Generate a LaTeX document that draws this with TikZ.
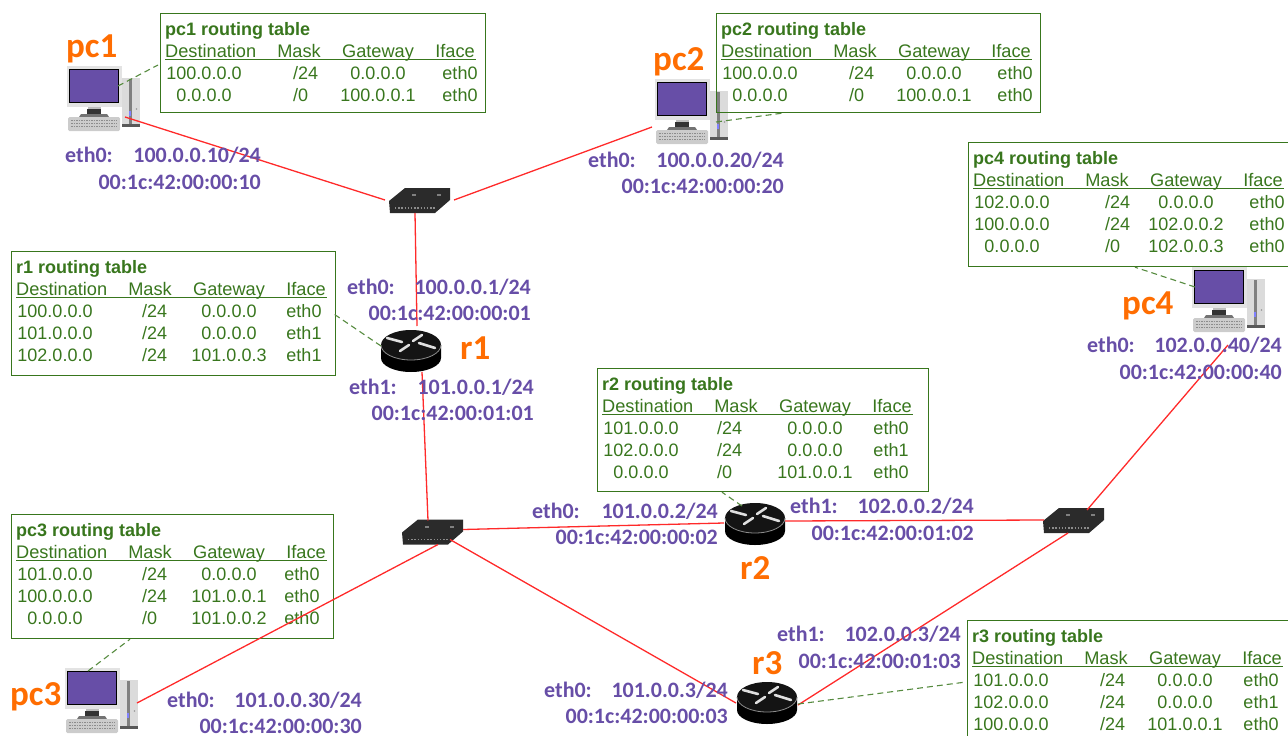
\documentclass[tikz,border=0pt]{standalone}
\usepackage{fontspec}
\setmainfont{Liberation Sans}
\newfontfamily\labfont{Carlito}
\usetikzlibrary{calc}
\definecolor{tgreen}{HTML}{38761D}
\definecolor{lpurple}{HTML}{674EA7}
\definecolor{lorange}{HTML}{FF6D01}
\definecolor{lred}{HTML}{FF2A2A}
\definecolor{swdark}{HTML}{2B2B2B}
\tikzset{
  tablebox/.style={draw=tgreen,line width=1.2pt,anchor=north west,inner sep=0pt},
  ttitle/.style={anchor=base west,inner sep=0pt,text=tgreen,font=\fontsize{18}{20}\selectfont\bfseries},
  thead/.style={inner sep=0pt,text=tgreen,font=\fontsize{18.2}{20}\selectfont},
  tcell/.style={inner sep=0pt,text=tgreen,font=\fontsize{18}{20}\selectfont},
  plab/.style={inner sep=0pt,text=lpurple,font=\labfont\fontsize{22}{24}\selectfont\bfseries},
  olab/.style={inner sep=0pt,text=lorange,font=\labfont\fontsize{35}{37}\selectfont\bfseries},
  devbox/.style={inner sep=0pt,minimum width=20pt,minimum height=20pt},
  netlink/.style={draw=lred,line width=1.3pt},
  tablelink/.style={draw=tgreen!85!white,line width=1.1pt,dash pattern=on 6pt off 4pt},
}
\newcommand\rtable[8]{% name x y w h title maskoff ifaceoff
  \def\curM{#7}\def\curE{#8}\def\curT{#1}
  \node[tablebox,minimum width=#4pt,minimum height=#5pt] (#1) at (#2,#3) {};
  \node[ttitle] (#1title) at ($(#1.north west)+(5,22)$) {#6};
  \node[thead,anchor=base west] (#1hd) at ($(#1.north west)+(5,44)$) {Destination};
  \node[thead,anchor=base] (#1hm) at ($(#1.north west)+(139,44)$) {Mask};
  \node[thead,anchor=base] (#1hg) at ($(#1.north west)+(218,44)$) {Gateway};
  \node[thead,anchor=base] (#1hi) at ($(#1.north west)+(295,44)$) {Iface};
  \draw[tgreen,line width=0.9pt] (#1hd.base west |- 0,{#3+46}) -- +(311,0);
}
\newcommand\trow[5]{% n dest mask gw iface
  \node[tcell,anchor=base] (\curT d#1) at ($(\curT.north west)+(44,{44+22*#1})$) {#2};
  \node[tcell,anchor=base west] (\curT m#1) at ($(\curT.north west)+(\curM,{44+22*#1})$) {#3};
  \node[tcell,anchor=base] (\curT g#1) at ($(\curT.north west)+(218,{44+22*#1})$) {#4};
  \node[tcell,anchor=base] (\curT i#1) at ($(\curT.north west)+(\curE,{44+22*#1})$) {#5};
}
\newcommand\pcicon[3]{%
  \node[devbox] (#1) at (#2,#3) {};
  \begin{scope}[shift={(#2,#3)}]
    \fill[black!11] (-36,-33) rectangle (19,8);
    \fill[black!25] (-15,8) rectangle (-2,14);
    \fill[black!80] (-16,10) rectangle (-2,15);
    \fill[black!55] (-22,15) -- (4,15) -- (6,18) -- (-24,18) -- cycle;
    \fill[black!20,rounded corners=1.5pt] (-35,18) rectangle (17,32);
    \foreach \ky in {21,24,27}{\draw[black!45,line width=0.8pt,dash pattern=on 1.5pt off 1pt] (-32,\ky) -- (14,\ky);}
    \fill[lpurple,draw=black,line width=1pt] (-34,-30) rectangle (15,3);
    \fill[black!14] (19,-21) rectangle (37,27);
    \fill[black!50] (26,-20) rectangle (29,25);
    \fill[black!65] (19,25) rectangle (37,28);
    \fill[blue!50!white] (26,12) rectangle (28,17);
    \fill[black!40] (33.5,10) circle (0.8);
  \end{scope}
}
\newcommand\roticon[3]{%
  \node[devbox] (#1) at (#2,#3) {};
  \begin{scope}[shift={(#2,#3)}]
    \fill[black] (-30,-6) -- (-30,7) arc[start angle=180,end angle=0,x radius=30,y radius=14] -- (30,-6) -- cycle;
    \fill[black!92] (0,-6) ellipse[x radius=30,y radius=15];
    \draw[black!45,line width=0.8pt] (-30,-6) arc[start angle=180,end angle=0,x radius=30,y radius=15];
    \draw[white!88!black,line width=2.6pt,line cap=round] (-24,-13) -- (-9,-9);
    \draw[white!88!black,line width=2.6pt,line cap=round] (2,-10) -- (11,-16);
    \draw[white!88!black,line width=2.6pt,line cap=round] (8,-8) -- (24,-3);
    \draw[white!88!black,line width=2.6pt,line cap=round] (-11,0) -- (-2,-6);
  \end{scope}
}
\newcommand\swicon[3]{%
  \node[devbox] (#1) at (#2,#3) {};
  \begin{scope}[shift={(#2,#3)}]
    \fill[swdark] (-31,1) -- (-15,-12) -- (30,-12) -- (30,0) -- (15,13) -- (-30,13) -- cycle;
    \draw[black!45,line width=1.1pt,dash pattern=on 1.4pt off 1.8pt] (-25,8) -- (16,8);
    \fill[black!50] (-8,-6) rectangle (-4,-4);
    \fill[black!50] (17,-6) rectangle (21,-4);
  \end{scope}
}
\newcommand\plabel[6]{% name xleft baseline eth xright ip
  \node[plab,anchor=base west] (#1e) at (#2,#3) {#4};
  \node[plab,anchor=base east] (#1i) at (#5,#3) {#6};
}
\begin{document}
\begin{tikzpicture}[x=1pt,y=-1pt]
\useasboundingbox (0,0) rectangle (1288,736);
\clip (0,0) rectangle (1288,736);
% devices
\pcicon{pc1}{103}{99}
\pcicon{pc2}{691}{112}
\pcicon{pc3}{101}{701}
\pcicon{pc4}{1228}{300}
\roticon{r1}{411}{351}
\roticon{r2}{755}{524}
\roticon{r3}{767}{703}
\swicon{sw1}{420}{200}
\swicon{sw2}{433}{531.5}
\swicon{sw3}{1074}{520}
% routing tables
\rtable{tpc1}{160}{13}{325}{99}{pc1 routing table}{133}{300}
\trow{1}{100.0.0.0}{/24}{0.0.0.0}{eth0}
\trow{2}{0.0.0.0}{/0}{100.0.0.1}{eth0}
\rtable{tpc2}{716}{13}{324}{99}{pc2 routing table}{133}{299}
\trow{1}{100.0.0.0}{/24}{0.0.0.0}{eth0}
\trow{2}{0.0.0.0}{/0}{100.0.0.1}{eth0}
\rtable{tr1}{11}{251}{324}{124}{r1 routing table}{131}{293}
\trow{1}{100.0.0.0}{/24}{0.0.0.0}{eth0}
\trow{2}{101.0.0.0}{/24}{0.0.0.0}{eth1}
\trow{3}{102.0.0.0}{/24}{101.0.0.3}{eth1}
\rtable{tpc4}{968}{142}{330}{124}{pc4 routing table}{137}{299}
\trow{1}{102.0.0.0}{/24}{0.0.0.0}{eth0}
\trow{2}{100.0.0.0}{/24}{102.0.0.2}{eth0}
\trow{3}{0.0.0.0}{/0}{102.0.0.3}{eth0}
\rtable{tpc3}{11}{514}{322}{124}{pc3 routing table}{131}{291}
\trow{1}{101.0.0.0}{/24}{0.0.0.0}{eth0}
\trow{2}{100.0.0.0}{/24}{101.0.0.1}{eth0}
\trow{3}{0.0.0.0}{/0}{101.0.0.2}{eth0}
\rtable{tr2}{597}{368}{331}{123}{r2 routing table}{120}{294}
\trow{1}{101.0.0.0}{/24}{0.0.0.0}{eth0}
\trow{2}{102.0.0.0}{/24}{0.0.0.0}{eth1}
\trow{3}{0.0.0.0}{/0}{101.0.0.1}{eth0}
\rtable{tr3}{967}{620}{330}{130}{r3 routing table}{133}{294}
\trow{1}{101.0.0.0}{/24}{0.0.0.0}{eth0}
\trow{2}{102.0.0.0}{/24}{0.0.0.0}{eth1}
\trow{3}{100.0.0.0}{/24}{101.0.0.1}{eth0}
% network links
\draw[netlink] ($(pc1)+(22,18)$) -- ($(sw1)+(-35,0)$);
\draw[netlink] ($(pc2)+(-39,15)$) -- ($(sw1)+(34,0)$);
\draw[netlink] ($(sw1)+(-5,13)$) -- ($(r1)+(6,-25)$);
\draw[netlink] ($(r1)+(11,21)$) -- ($(sw2)+(-5,-11)$);
\draw[netlink] ($(sw2)+(30,-2)$) -- ($(r2)+(-31,-1)$);
\draw[netlink] ($(r2)+(30,-3)$) -- ($(sw3)+(-30,0)$);
\draw[netlink] ($(sw2)+(17,8)$) -- ($(r3)+(-31,0)$);
\draw[netlink] ($(sw3)+(-6,13)$) -- ($(r3)+(31,2)$);
\draw[netlink] ($(sw3)+(13,-10)$) -- ($(pc4)+(0,45)$);
\draw[netlink] ($(sw2)+(5,13)$) -- ($(pc3)+(36,2)$);
% table links
\draw[tablelink] ($(pc1)+(15,-13)$) -- ($(tpc1.north west)+(-2,52)$);
\draw[tablelink] ($(pc2)+(25,10)$) -- ($(tpc2.south west)+(66,0)$);
\draw[tablelink] ($(r1)+(-30,-5)$) -- ($(tr1.south east)+(-2,-62)$);
\draw[tablelink] ($(pc4)+(-33,-13)$) -- ($(tpc4.south west)+(167,0)$);
\draw[tablelink] ($(pc3)+(-13,-30)$) -- ($(tpc3.south west)+(119,0)$);
\draw[tablelink] ($(r2)+(-13,-18)$) -- ($(tr2.south west)+(125,0)$);
\draw[tablelink] ($(r3)+(31,1)$) -- ($(tr3.north west)+(-1,62)$);
% addresses
\plabel{pc1a}{65}{162}{eth0:}{261}{100.0.0.10/24}
\node[plab,anchor=base east] (pc1m) at (261,189) {00:1c:42:00:00:10};
\plabel{pc2a}{588}{167}{eth0:}{784}{100.0.0.20/24}
\node[plab,anchor=base east] (pc2m) at (784,193) {00:1c:42:00:00:20};
\plabel{r1a}{347}{294}{eth0:}{531}{100.0.0.1/24}
\node[plab,anchor=base east] (r1am) at (531,320) {00:1c:42:00:00:01};
\plabel{r1b}{349}{394}{eth1:}{534}{101.0.0.1/24}
\node[plab,anchor=base east] (r1bm) at (534,420) {00:1c:42:00:01:01};
\plabel{r2a}{532}{518}{eth0:}{718}{101.0.0.2/24}
\node[plab,anchor=base east] (r2am) at (718,544) {00:1c:42:00:00:02};
\plabel{r2b}{790}{513}{eth1:}{974}{102.0.0.2/24}
\node[plab,anchor=base east] (r2bm) at (974,540) {00:1c:42:00:01:02};
\plabel{r3b}{777}{641}{eth1:}{961}{102.0.0.3/24}
\node[plab,anchor=base east] (r3bm) at (961,668) {00:1c:42:00:01:03};
\plabel{r3a}{544}{697}{eth0:}{728}{101.0.0.3/24}
\node[plab,anchor=base east] (r3am) at (728,723) {00:1c:42:00:00:03};
\plabel{pc3a}{167}{707}{eth0:}{362}{101.0.0.30/24}
\node[plab,anchor=base east] (pc3m) at (362,733) {00:1c:42:00:00:30};
\plabel{pc4a}{1087}{352}{eth0:}{1282}{102.0.0.40/24}
\node[plab,anchor=base east] (pc4m) at (1282,379) {00:1c:42:00:00:40};
% names
\node[olab,anchor=base west] (pc1n) at (66,57) {pc1};
\node[olab,anchor=base west] (pc2n) at (653,70) {pc2};
\node[olab,anchor=base west] (pc3n) at (10,705) {pc3};
\node[olab,anchor=base west] (pc4n) at (1122,314) {pc4};
\node[olab,anchor=base west] (r1n) at (460,359) {r1};
\node[olab,anchor=base west] (r2n) at (740,579) {r2};
\node[olab,anchor=base west] (r3n) at (752,674) {r3};
\end{tikzpicture}
\end{document}
